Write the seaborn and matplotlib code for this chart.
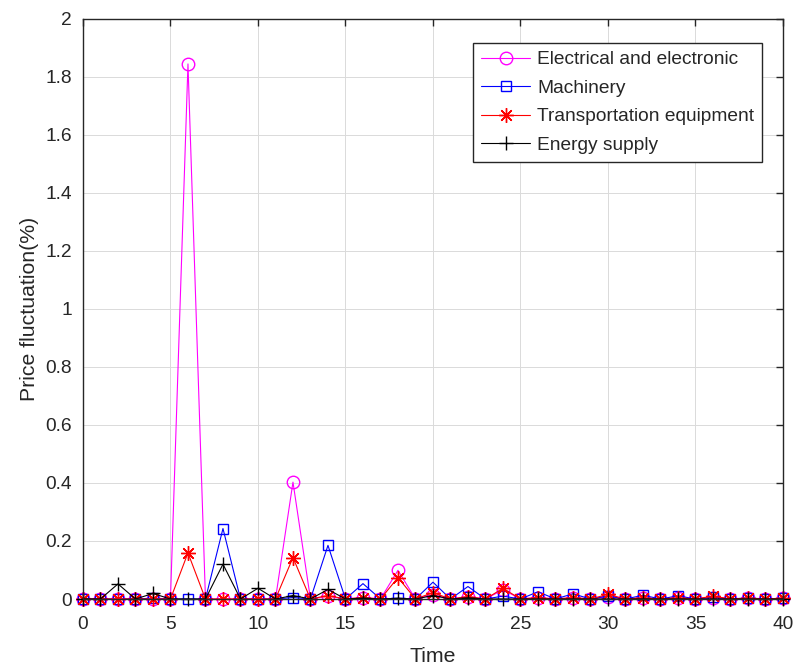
import matplotlib
matplotlib.use("Agg")
import matplotlib.pyplot as plt
from matplotlib.ticker import FuncFormatter
import seaborn as sns

# time steps
time = list(range(41))

# price fluctuation (%) of each industry
electrical = [0, 0, 0, 0, 0, 0, 1.845, 0, 0, 0,
              0, 0, 0.403, 0, 0.010, 0, 0.005, 0, 0.099, 0,
              0.015, 0, 0.008, 0, 0.032, 0, 0.005, 0, 0.004, 0,
              0.008, 0, 0.004, 0, 0.003, 0, 0.005, 0, 0.002, 0, 0.002]
machinery = [0, 0, 0, 0, 0.003, 0, 0, 0, 0.243, 0,
             0, 0, 0.005, 0, 0.185, 0, 0.053, 0, 0.003, 0,
             0.058, 0, 0.043, 0, 0.010, 0, 0.025, 0, 0.018, 0,
             0.010, 0, 0.013, 0, 0.011, 0, 0.006, 0, 0.004, 0, 0.003]
transport = [0, 0, 0, 0, 0, 0, 0.159, 0, 0, 0,
             0, 0, 0.143, 0, 0.012, 0, 0.005, 0, 0.074, 0,
             0.022, 0, 0.008, 0, 0.037, 0, 0.005, 0, 0.005, 0,
             0.016, 0, 0.004, 0, 0.004, 0, 0.010, 0, 0.003, 0, 0.003]
energy = [0, 0, 0.052, 0, 0.019, 0, 0, 0, 0.120, 0,
          0.037, 0, 0.012, 0, 0.033, 0, 0.003, 0, 0.002, 0,
          0.012, 0, 0.004, 0, 0, 0, 0, 0, 0, 0,
          0, 0, 0, 0, 0, 0, 0, 0, 0, 0, 0]

labels = ['Electrical and electronic', 'Machinery', 'Transportation equipment', 'Energy supply']
xticks = list(range(0, 41, 5))
yticks = [i / 10 for i in range(0, 21, 2)]

sns.set_style("whitegrid", {"grid.color": "#DEDEDE", "axes.edgecolor": "#262626"})
plt.rcParams['font.family'] = ['Liberation Sans', 'DejaVu Sans']

fig = plt.figure(figsize=(7.94, 6.66), dpi=100)
ax = fig.add_axes([0.1045, 0.1006, 0.8816, 0.8709])

# marker style per series (matlab look: hollow markers, thin lines)
styles = [
    dict(color='#FF00FF', marker='o', markersize=9, markerfacecolor='none'),
    dict(color='#0000FF', marker='s', markersize=7.8, markerfacecolor='none'),
    dict(color='#FF0000', marker=(8, 2, 0), markersize=10.5),
    dict(color='#000000', marker='+', markersize=10),
]
for vals, lab, st in zip([electrical, machinery, transport, energy], labels, styles):
    sns.lineplot(x=time, y=vals, ax=ax, label=lab, linewidth=0.8,
                 markeredgecolor=st['color'], markeredgewidth=1.0,
                 clip_on=False, **st)

ax.set_xlim(0, 40)
ax.set_ylim(0, 2)
ax.set_xticks(xticks)
ax.set_yticks(yticks)
ax.yaxis.set_major_formatter(FuncFormatter(lambda v, p: '%g' % v))
ax.grid(True, color='#DADADA', linewidth=0.7)
for s in ax.spines.values():
    s.set_visible(True)
    s.set_color('#262626')
    s.set_linewidth(1.0)
ax.tick_params(direction='in', length=5, width=1.0, colors='#262626',
               labelsize=13.8, top=True, right=True, pad=8)
ax.tick_params(axis='x', pad=12)

ax.set_xlabel('Time', fontsize=15.3, color='#262626')
ax.set_ylabel('Price fluctuation(%)', fontsize=15.3, color='#262626')
ax.xaxis.set_label_coords(0.5, -0.082)
ax.yaxis.set_label_coords(-0.063, 0.5)

leg = ax.legend(loc='upper right', bbox_to_anchor=(0.970, 0.959), borderaxespad=0,
                fontsize=13.8, frameon=True, fancybox=False, framealpha=1,
                edgecolor='#262626', handlelength=2.55, handletextpad=0.35,
                borderpad=0.42, labelspacing=0.58)
leg.get_frame().set_linewidth(1.0)

fig.savefig('out.png', dpi=100)
